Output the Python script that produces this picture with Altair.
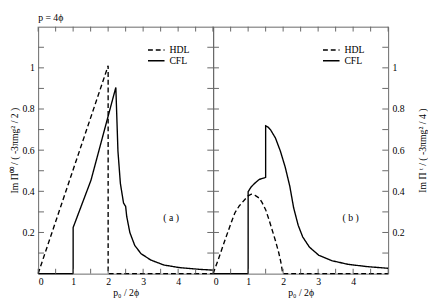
import altair as alt
import pandas as pd

FONT = "Liberation Serif"
title_text = "p = 4ϕ"
series_names = ["HDL", "CFL"]
panel_labels = ["( a )", "( b )"]
panel_label_x = [3.8, 3.93]
panel_label_y = [0.268, 0.268]

x_title = "p₀ / 2ϕ"
y_title_a = "Im Π⁰⁰ / ( -3πmg² / 2 )"
y_title_b = "Im Π ᵗ / ( -3πmg² / 4 )"

x_label_values = [0, 1, 2, 3, 4]
y_label_values = [0.2, 0.4, 0.6, 0.8, 1.0]
x_tick_values = [0, 0.5, 1, 1.5, 2, 2.5, 3, 3.5, 4, 4.5, 5]
y_tick_values = [0.1, 0.2, 0.3, 0.4, 0.5, 0.6, 0.7, 0.8, 0.9, 1.0, 1.1]

# panel (a)
a_hdl_x = [0, 2.0, 2.0, 5.0]
a_hdl_y = [0, 1.01, 0, 0]
a_cfl_x = [0, 1.0, 1.0, 1.51, 2.22, 2.28, 2.35, 2.44, 2.50, 2.53, 2.62, 2.76,
           2.94, 3.22, 3.59, 4.05, 4.6, 5.0]
a_cfl_y = [0, 0, 0.224, 0.454, 0.905, 0.596, 0.438, 0.343, 0.327, 0.279, 0.2,
           0.137, 0.097, 0.066, 0.042, 0.029, 0.021, 0.017]

# panel (b)
b_hdl_x = [0, 0.15, 0.35, 0.5, 0.62, 0.75, 0.9, 1.0, 1.09, 1.2, 1.32, 1.4, 1.5,
           1.6, 1.68, 1.78, 1.87, 1.93, 1.99, 5.0]
b_hdl_y = [0, 0.07, 0.169, 0.24, 0.295, 0.33, 0.359, 0.378, 0.386, 0.38, 0.367,
           0.345, 0.311, 0.26, 0.216, 0.16, 0.105, 0.06, 0, 0]
b_cfl_x = [0, 1.0, 1.0, 1.08, 1.18, 1.32, 1.48, 1.5, 1.5, 1.57, 1.64, 1.78,
           1.92, 2.06, 2.19, 2.3, 2.43, 2.56, 2.75, 3.02, 3.39, 3.86, 4.41, 5.0]
b_cfl_y = [0, 0, 0.398, 0.42, 0.438, 0.458, 0.466, 0.468, 0.718, 0.712, 0.699,
           0.659, 0.596, 0.517, 0.425, 0.32, 0.235, 0.178, 0.129, 0.089, 0.063,
           0.045, 0.034, 0.026]

W, H = 180, 254
FRAME = "#666666"


def make_df(hx, hy, cx, cy):
    rows = []
    for i, (x, y) in enumerate(zip(hx, hy)):
        rows.append({"x": x, "y": y, "s": series_names[0], "i": i})
    for i, (x, y) in enumerate(zip(cx, cy)):
        rows.append({"x": x, "y": y, "s": series_names[1], "i": i})
    return pd.DataFrame(rows)


xs = alt.Scale(domain=[0, 5], nice=False, zero=False)
ys = alt.Scale(domain=[0, 1.2], nice=False, zero=False)


def panel(df, ytitle, yorient, label_idx):
    xaxis = alt.Axis(values=x_label_values, ticks=False, domain=False, grid=False,
                     title=x_title, format="~g", labelPadding=3, titlePadding=1)
    yaxis = alt.Axis(values=y_label_values, ticks=False, domain=False, grid=False,
                     title=ytitle, format="~g", orient=yorient, labelPadding=4,
                     titlePadding=3 if yorient == "left" else 14, titleAngle=270,
                     titleBaseline="bottom" if yorient == "left" else "top")
    X = lambda f: alt.X(f, scale=xs, axis=xaxis, title=x_title)
    Y = lambda f: alt.Y(f, scale=ys, axis=yaxis, title=ytitle)
    lines = alt.Chart(df).mark_line(color="black", strokeWidth=1.4).encode(
        x=X("x:Q"),
        y=Y("y:Q"),
        strokeDash=alt.StrokeDash("s:N", scale=alt.Scale(domain=series_names,
                                  range=[[5, 3], [1, 0]]), legend=None),
        detail="s:N",
        order="i:Q",
    )
    xt = pd.DataFrame({"v": x_tick_values})
    yt = pd.DataFrame({"v": y_tick_values})
    tb = alt.Chart(xt).mark_rule(color=FRAME, strokeWidth=1).encode(
        x=X("v:Q"), y=alt.value(H), y2=alt.value(H - 5))
    tt = alt.Chart(xt).mark_rule(color=FRAME, strokeWidth=1).encode(
        x=X("v:Q"), y=alt.value(0), y2=alt.value(5))
    tl = alt.Chart(yt).mark_rule(color=FRAME, strokeWidth=1).encode(
        y=Y("v:Q"), x=alt.value(0), x2=alt.value(6))
    tr = alt.Chart(yt).mark_rule(color=FRAME, strokeWidth=1).encode(
        y=Y("v:Q"), x=alt.value(W - 6), x2=alt.value(W))
    lab = alt.Chart(pd.DataFrame({"t": [panel_labels[label_idx]],
                                  "x": [panel_label_x[label_idx]],
                                  "y": [panel_label_y[label_idx]]})).mark_text(
        font=FONT, fontSize=10, color="black").encode(
        x=X("x:Q"), y=Y("y:Q"), text="t:N")
    leg = []
    for k, name in enumerate(series_names):
        yy = 24 + 11 * k
        leg.append(alt.Chart(pd.DataFrame({"t": [name]})).mark_rule(
            color="black", strokeWidth=1.4,
            strokeDash=[5, 3] if k == 0 else [1, 0]).encode(
            x=alt.value(113), x2=alt.value(130), y=alt.value(yy)))
        leg.append(alt.Chart(pd.DataFrame({"t": [name]})).mark_text(
            font=FONT, fontSize=10, align="left", baseline="middle",
            color="black").encode(x=alt.value(135), y=alt.value(yy), text="t:N"))
    layers = [lines, tb, tt, tl, tr, lab] + leg
    if label_idx == 0:
        layers.append(alt.Chart(pd.DataFrame({"t": [title_text]})).mark_text(
            font=FONT, fontSize=10, align="left", baseline="middle",
            color="black").encode(x=alt.value(0), y=alt.value(-9), text="t:N"))
    return alt.layer(*layers).properties(width=W, height=H)


left = panel(make_df(a_hdl_x, a_hdl_y, a_cfl_x, a_cfl_y), y_title_a, "left", 0)
right = panel(make_df(b_hdl_x, b_hdl_y, b_cfl_x, b_cfl_y), y_title_b, "right", 1)

chart = alt.hconcat(left, right, spacing=0, bounds="flush").configure(
    padding={"left": 0, "top": 0, "right": 0, "bottom": 2},
    font=FONT,
).configure_view(stroke=FRAME, strokeWidth=1).configure_axis(
    labelFont=FONT, titleFont=FONT, labelFontSize=10, titleFontSize=10,
    titleFontWeight="normal", labelColor="black", titleColor="black")

chart.save("out.html", embed_options={"renderer": "svg", "actions": False})
